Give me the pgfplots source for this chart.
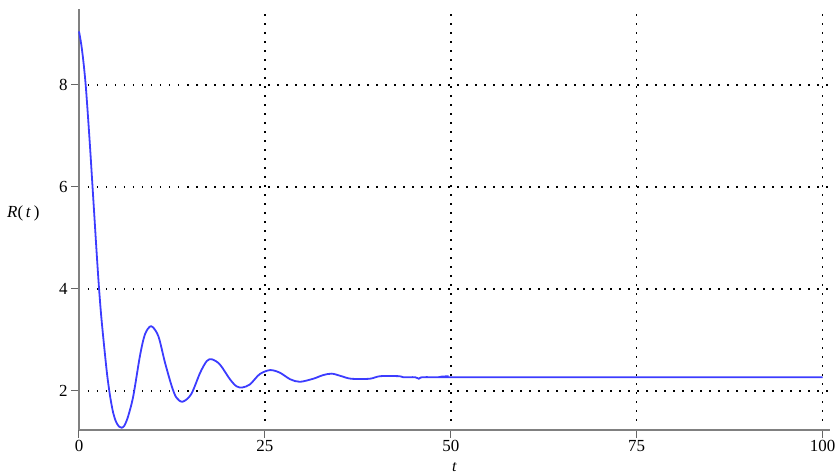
\documentclass[border=0pt]{standalone}
\usepackage{fontspec}
\setmainfont{Liberation Serif}
\usepackage{pgfplots}
\pgfplotsset{compat=1.18}

\definecolor{curveblue}{RGB}{60,60,255}

\begin{document}
\begin{tikzpicture}
\useasboundingbox (-79bp,-43bp) rectangle (758bp,430bp);
\begin{axis}[
    at={(0,0)}, anchor=south west,
    scale only axis,
    width=751bp, height=421bp,
    xmin=0, xmax=101,
    ymin=1.235, ymax=9.49,
    xtick={0,25,50,75,100},
    ytick={2,4,6,8},
    axis lines=left,
    axis line style={-, line width=2bp, black!50},
    tick align=outside,
    major tick length=8bp,
    tick style={line width=1bp, black!60},
    grid=major,
    major grid style={black, line width=1.5bp, dash pattern=on 1.5bp off 7.5bp},
    /pgf/number format/assume math mode=true,
    tick label style={font=\fontsize{17}{18}\selectfont},
    xticklabel style={inner sep=1bp, yshift=-1bp},
    xlabel={\textit{t}},
    ylabel={\textit{R}(\,\textit{t}\,)},
    xlabel style={font=\fontsize{16}{18}\selectfont, at={(rel axis cs:0.5,0)}, anchor=base, yshift=-41bp, inner sep=0pt},
    ylabel style={font=\fontsize{17}{19}\selectfont, rotate=-90, at={(rel axis cs:0,0.515)}, anchor=east, xshift=-36bp},
    clip=false,
]
\addplot[curveblue, line width=1.8bp, smooth, tension=0.5] coordinates {
    (0,9.05) (0.3,8.8) (0.6,8.45) (0.9,8.0) (1.2,7.4) (1.5,6.75)
    (1.8,6.05) (2.1,5.35) (2.4,4.65) (2.7,4.0) (3.0,3.45) (3.4,2.85)
    (3.8,2.3) (4.2,1.88) (4.6,1.57) (5.0,1.39) (5.4,1.3) (5.74,1.28)
    (6.1,1.32) (6.6,1.5) (7.3,1.9) (8.2,2.69) (8.87,3.11)
    (9.7,3.27) (10.66,3.08) (11.56,2.56) (12.46,2.10) (13.1,1.87) (13.95,1.79)
    (15.1,1.94) (16.3,2.36) (17.2,2.59) (17.9,2.62) (18.95,2.52) (20.3,2.23)
    (21.2,2.09) (22.0,2.07) (23.0,2.13) (24.3,2.33) (25.7,2.41) (27.0,2.36)
    (28.4,2.23) (29.7,2.18) (31.5,2.24) (32.8,2.31) (34.0,2.34) (35.3,2.29)
    (36.6,2.24) (39.1,2.24) (40.5,2.29) (43.1,2.29) (43.6,2.27) (45.2,2.27)
    (45.7,2.24) (46.2,2.27) (49.0,2.27) (49.7,2.29) (50.3,2.27) (75,2.27)
    (100,2.27)
};
\end{axis}
\end{tikzpicture}
\end{document}
